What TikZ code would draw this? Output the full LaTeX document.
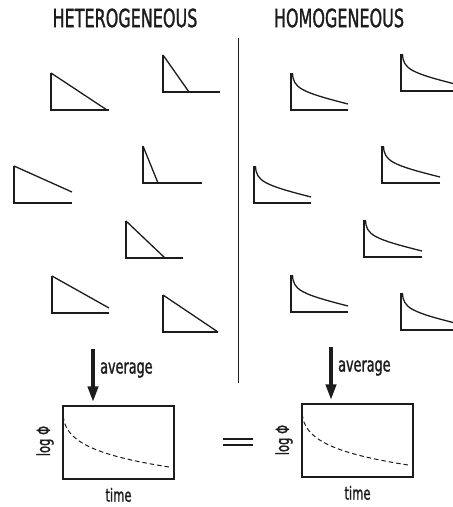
\documentclass[tikz,border=0pt]{standalone}
\usepackage{fontspec}
\setmainfont{DejaVu Sans}[FakeStretch=0.64, FakeBold=1.2]
\usetikzlibrary{arrows.meta,positioning}
\definecolor{ink}{RGB}{28,28,28}

\begin{document}
\begin{tikzpicture}[x=1pt, y=-1pt,
  trace/.style={draw=ink, line width=1.3pt},
  head/.style={font=\fontsize{25}{25}\selectfont, text=ink, inner sep=0pt},
  avglab/.style={font=\fontsize{20}{20}\selectfont, text=ink, inner sep=0pt},
  axlab/.style={font=\fontsize{18}{18}\selectfont, text=ink, inner sep=0pt},
  plotbox/.style={rectangle, draw=ink, line width=1.4pt, minimum width=111pt,
                  minimum height=73pt, inner sep=0pt},
  fitcurve/.style={draw=ink, line width=1pt, dash pattern=on 4.5pt off 3pt},
  avgarrow/.style={draw=ink, line width=4pt, -{Triangle[length=16pt, width=10pt]}},
  eqbar/.style={draw=ink, line width=1.5pt},
  pics/ramp/.style args={#1/#2/#3}{code={
    \draw[trace] (0,-37) -- (0,0) -- (#3,0);
    \draw[trace] (0,-37) -- (#1,-#2);
  }},
  pics/decay/.style={code={
    \draw[trace] (0,-37) -- (0,0) -- (#1,0);
    \draw[trace] (1.5,-37) .. controls (2,-22) and (10,-18) .. (#1,-6);
  }}]
\useasboundingbox (0,0) rectangle (453,507);

% column titles
\node[head] (hethead) at (125,18) {HETEROGENEOUS};
\node[head] (homhead) at (339,18) {HOMOGENEOUS};
\draw[ink, line width=1pt] (238,38) -- (238,383);

% single decays, heterogeneous side
\foreach \cx/\cy/\hx/\hr/\bl in {51/110/56/0/58, 163/92/26/0/57, 14/203/58/11/58,
    143/183/15/0/59, 126/258/39/0/57, 52/313/57/5/57, 163/332/55/0/55}
  \pic at (\cx,\cy) {ramp=\hx/\hr/\bl};

% single decays, homogeneous side
\foreach \cx/\cy/\bl in {291/110/57, 401/91/58, 254/203/57, 382/183/58,
    364/257/58, 291/312/57, 401/330/58}
  \pic at (\cx,\cy) {decay=\bl};

% averaged curves
\node[plotbox] (hetplot) at (118.5,442.5) {};
\node[plotbox] (homplot) at (357.5,440.5) {};
\foreach \p in {hetplot,homplot}
  \draw[fitcurve] ([shift={(1,11)}]\p.north west) .. controls ([shift={(3,35)}]\p.north west)
    and ([shift={(30,50)}]\p.north west) .. ([shift={(109,62)}]\p.north west);

\coordinate (hetarr) at (93,349);
\coordinate (homarr) at (331,347);
\draw[avgarrow, shorten >=3pt] (hetarr) -- (hetarr |- hetplot.north);
\draw[avgarrow, shorten >=3pt] (homarr) -- (homarr |- homplot.north);
\node[avglab, anchor=west] (hetavg) at (100,370) {average};
\node[avglab, anchor=west] (homavg) at (338,368) {average};

\node[axlab, rotate=90] (hetlog) at (45,441) {log Φ};
\node[axlab, rotate=90] (homlog) at (284,440) {log Φ};
\node[axlab, below=8pt of hetplot] (hettime) {time};
\node[axlab, below=8pt of homplot] (homtime) {time};

\draw[eqbar] (223,439) -- (253,439);
\draw[eqbar] (223,445) -- (253,445);
\end{tikzpicture}
\end{document}
